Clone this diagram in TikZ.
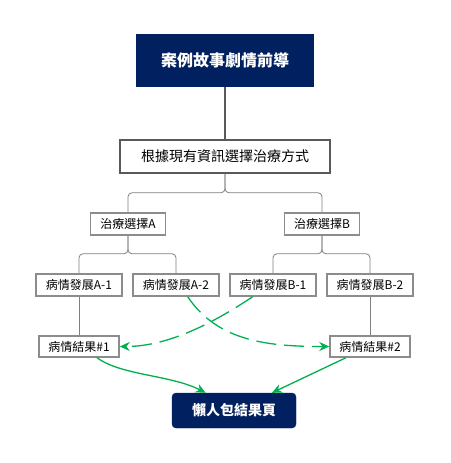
\documentclass[tikz,border=0pt]{standalone}
\usepackage{fontspec}
\usetikzlibrary{arrows.meta}
\setmainfont{Noto Sans CJK TC}
\definecolor{navy}{HTML}{002060}
\definecolor{darkline}{HTML}{595959}
\definecolor{boxline}{HTML}{8C8C8C}
\definecolor{treeline}{HTML}{7F7F7F}
\definecolor{greenarrow}{HTML}{00B050}

\begin{document}
\begin{tikzpicture}[x=1pt, y=1pt, node distance=61pt, >={Stealth[length=10pt, width=9pt]},
title_box/.style={fill=navy, text=white, font=\bfseries\fontsize{16}{18}\selectfont, minimum width=178pt, minimum height=53pt, inner sep=0pt}, task_box/.style={draw=darkline, fill=white, line width=1.5pt, font=\fontsize{14}{16}\selectfont, minimum width=210pt, minimum height=33pt, inner sep=0pt}, choice_box/.style={draw=boxline, fill=white, line width=1.5pt, font=\fontsize{12}{14}\selectfont, minimum width=75pt, minimum height=22pt, inner sep=0pt}, case_box/.style={choice_box, minimum width=86pt}, result_box/.style={choice_box, minimum width=80pt, minimum height=21pt}, end_box/.style={fill=navy, draw=navy, rounded corners=4pt, text=white, font=\bfseries\fontsize{14}{16}\selectfont, minimum width=124pt, minimum height=35pt, inner sep=0pt}, tree_line/.style={draw=treeline, line width=0.8pt, rounded corners=4pt}, green_arrow/.style={draw=greenarrow, line width=1.3pt, ->}]
    \useasboundingbox (0,0) rectangle (450,-463);
    % Nodes
    \node (Title) [title_box] at (225,-60.5) {案例故事劇情前導};
    \node (Task) [below of=Title, yshift=-35pt, task_box] {根據現有資訊選擇治療方式};
    \node (ChoiceA) [below of=Task, xshift=-97pt, yshift=-6.5pt, choice_box] {治療選擇A};
    \node (ChoiceB) [below of=Task, xshift=97pt, yshift=-6.5pt, choice_box] {治療選擇B};
    \node (A1) [below of=ChoiceA, xshift=-49pt, case_box] {病情發展A-1};
    \node (A2) [below of=ChoiceA, xshift=48pt, case_box] {病情發展A-2};
    \node (B1) [below of=ChoiceB, xshift=-49pt, case_box] {病情發展B-1};
    \node (B2) [below of=ChoiceB, xshift=48pt, case_box] {病情發展B-2};
    \node (R1) [below of=A1, yshift=-0.5pt, result_box] {病情結果\#1};
    \node (R2) [below of=B2, yshift=-0.5pt, result_box] {病情結果\#2};
    \node (End) [end_box] at (234,-410.5) {懶人包結果頁};

    % Tree lines
    \draw[draw=darkline, line width=2pt] (Title) -- (Task);
    \draw[tree_line] (Task.south) -- ++(0,-19) -| (ChoiceA.north);
    \draw[tree_line] (Task.south) -- ++(0,-19) -| (ChoiceB.north);
    \draw[tree_line] (ChoiceA.south) -- ++(0,-18) -| (A1.north);
    \draw[tree_line] (ChoiceA.south) -- ++(0,-18) -| (A2.north);
    \draw[tree_line] (ChoiceB.south) -- ++(0,-18) -| (B1.north);
    \draw[tree_line] (ChoiceB.south) -- ++(0,-18) -| (B2.north);
    \draw[tree_line] (A1) -- (R1);
    \draw[tree_line] (B2) -- (R2);

    % Arrows
    \draw[green_arrow, dash pattern=on 20pt off 8pt] (A2.-45) .. controls +(30,-45) and +(-60,0) .. (R2.west);
    \draw[green_arrow, dash pattern=on 20pt off 8pt] (B1.-150) .. controls +(-45,-30) and +(45,0) .. (R1.east);
    \draw[green_arrow] (R1.-32) .. controls +(25,-18) and +(-35,18) .. (End.148);
    \draw[green_arrow] (R2.-155) -- (End.25);
  \end{tikzpicture}
\end{document}
